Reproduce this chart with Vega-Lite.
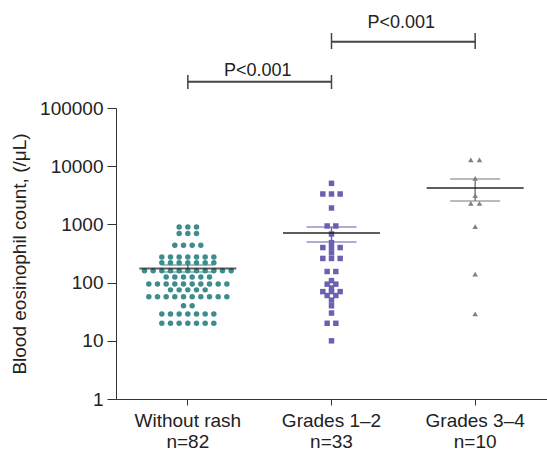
{
  "$schema": "https://vega.github.io/schema/vega-lite/v6.json",
  "width": 431,
  "height": 291,
  "autosize": {"type": "none"},
  "padding": {"left": 116, "top": 108, "right": 0, "bottom": 55},
  "background": "white",
  "config": {"view": {"stroke": null}, "font": "Liberation Sans"},
  "datasets": {
    "pts": [
      {"group": "Without rash", "value": 900}, {"group": "Without rash", "value": 900}, {"group": "Without rash", "value": 900},
      {"group": "Without rash", "value": 700}, {"group": "Without rash", "value": 700}, {"group": "Without rash", "value": 700},
      {"group": "Without rash", "value": 440}, {"group": "Without rash", "value": 440}, {"group": "Without rash", "value": 440}, {"group": "Without rash", "value": 440},
      {"group": "Without rash", "value": 275}, {"group": "Without rash", "value": 275}, {"group": "Without rash", "value": 275}, {"group": "Without rash", "value": 275}, {"group": "Without rash", "value": 275}, {"group": "Without rash", "value": 275}, {"group": "Without rash", "value": 275},
      {"group": "Without rash", "value": 220}, {"group": "Without rash", "value": 220}, {"group": "Without rash", "value": 220}, {"group": "Without rash", "value": 220}, {"group": "Without rash", "value": 220}, {"group": "Without rash", "value": 220}, {"group": "Without rash", "value": 220},
      {"group": "Without rash", "value": 160}, {"group": "Without rash", "value": 160}, {"group": "Without rash", "value": 160}, {"group": "Without rash", "value": 160}, {"group": "Without rash", "value": 160}, {"group": "Without rash", "value": 160}, {"group": "Without rash", "value": 160}, {"group": "Without rash", "value": 160}, {"group": "Without rash", "value": 160}, {"group": "Without rash", "value": 160}, {"group": "Without rash", "value": 160},
      {"group": "Without rash", "value": 125}, {"group": "Without rash", "value": 125}, {"group": "Without rash", "value": 125}, {"group": "Without rash", "value": 125}, {"group": "Without rash", "value": 125}, {"group": "Without rash", "value": 125},
      {"group": "Without rash", "value": 95}, {"group": "Without rash", "value": 95}, {"group": "Without rash", "value": 95}, {"group": "Without rash", "value": 95}, {"group": "Without rash", "value": 95}, {"group": "Without rash", "value": 95}, {"group": "Without rash", "value": 95}, {"group": "Without rash", "value": 95}, {"group": "Without rash", "value": 95}, {"group": "Without rash", "value": 95},
      {"group": "Without rash", "value": 75}, {"group": "Without rash", "value": 75}, {"group": "Without rash", "value": 75}, {"group": "Without rash", "value": 75}, {"group": "Without rash", "value": 75},
      {"group": "Without rash", "value": 57}, {"group": "Without rash", "value": 57}, {"group": "Without rash", "value": 57}, {"group": "Without rash", "value": 57}, {"group": "Without rash", "value": 57}, {"group": "Without rash", "value": 57}, {"group": "Without rash", "value": 57}, {"group": "Without rash", "value": 57}, {"group": "Without rash", "value": 57}, {"group": "Without rash", "value": 57},
      {"group": "Without rash", "value": 40}, {"group": "Without rash", "value": 40},
      {"group": "Without rash", "value": 29}, {"group": "Without rash", "value": 29}, {"group": "Without rash", "value": 29}, {"group": "Without rash", "value": 29}, {"group": "Without rash", "value": 29}, {"group": "Without rash", "value": 29}, {"group": "Without rash", "value": 29},
      {"group": "Without rash", "value": 20}, {"group": "Without rash", "value": 20}, {"group": "Without rash", "value": 20}, {"group": "Without rash", "value": 20}, {"group": "Without rash", "value": 20}, {"group": "Without rash", "value": 20}, {"group": "Without rash", "value": 20},
      {"group": "Grades 1–2", "value": 5080},
      {"group": "Grades 1–2", "value": 3330}, {"group": "Grades 1–2", "value": 3330}, {"group": "Grades 1–2", "value": 3330},
      {"group": "Grades 1–2", "value": 1914},
      {"group": "Grades 1–2", "value": 940}, {"group": "Grades 1–2", "value": 940},
      {"group": "Grades 1–2", "value": 684},
      {"group": "Grades 1–2", "value": 485},
      {"group": "Grades 1–2", "value": 400}, {"group": "Grades 1–2", "value": 400}, {"group": "Grades 1–2", "value": 400},
      {"group": "Grades 1–2", "value": 325},
      {"group": "Grades 1–2", "value": 260}, {"group": "Grades 1–2", "value": 260}, {"group": "Grades 1–2", "value": 260},
      {"group": "Grades 1–2", "value": 155}, {"group": "Grades 1–2", "value": 155},
      {"group": "Grades 1–2", "value": 108},
      {"group": "Grades 1–2", "value": 94}, {"group": "Grades 1–2", "value": 94},
      {"group": "Grades 1–2", "value": 81},
      {"group": "Grades 1–2", "value": 70}, {"group": "Grades 1–2", "value": 70}, {"group": "Grades 1–2", "value": 70},
      {"group": "Grades 1–2", "value": 60}, {"group": "Grades 1–2", "value": 60},
      {"group": "Grades 1–2", "value": 50},
      {"group": "Grades 1–2", "value": 40},
      {"group": "Grades 1–2", "value": 30},
      {"group": "Grades 1–2", "value": 20}, {"group": "Grades 1–2", "value": 20},
      {"group": "Grades 1–2", "value": 10},
      {"group": "Grades 3–4", "value": 12800}, {"group": "Grades 3–4", "value": 12800},
      {"group": "Grades 3–4", "value": 6200},
      {"group": "Grades 3–4", "value": 3112},
      {"group": "Grades 3–4", "value": 2300}, {"group": "Grades 3–4", "value": 2300},
      {"group": "Grades 3–4", "value": 913},
      {"group": "Grades 3–4", "value": 140},
      {"group": "Grades 3–4", "value": 29}
    ],
    "summary": [
      {"group": "Without rash", "mean": 175, "lo": 152, "hi": 200},
      {"group": "Grades 1–2", "mean": 711, "lo": 500, "hi": 902},
      {"group": "Grades 3–4", "mean": 4220, "lo": 2515, "hi": 6030}
    ],
    "brackets": [
      {"a": "Without rash", "b": "Grades 1–2", "y": 283000, "ylo": 212000, "yhi": 369000, "ty": 355000, "label": "P<0.001"},
      {"a": "Grades 1–2", "b": "Grades 3–4", "y": 1377000, "ylo": 1030000, "yhi": 1945000, "ty": 2370000, "label": "P<0.001"}
    ]
  },
  "layer": [
    {
      "data": {"name": "pts"},
      "transform": [
        {"window": [{"op": "count", "as": "one"}], "frame": [0, 0]},
        {"stack": "one", "groupby": ["group", "value"], "offset": "center", "as": ["s0", "s1"]}
      ],
      "mark": {"type": "point", "filled": true, "opacity": 1, "size": 30},
      "encoding": {
        "x": {
          "field": "group", "type": "nominal",
          "scale": {"type": "band", "domain": ["Without rash", "Grades 1–2", "Grades 3–4"], "paddingInner": 0, "paddingOuter": 0},
          "axis": {
            "title": null,
            "domainColor": "#333", "tickColor": "#333", "tickSize": 6, "labelPadding": 6,
            "labelFontSize": 19, "labelColor": "#222", "labelAngle": 0, "labelLineHeight": 21, "labelBaseline": "top",
            "labelExpr": "datum.value == 'Without rash' ? ['Without rash', 'n=82'] : datum.value == 'Grades 1–2' ? ['Grades 1–2', 'n=33'] : ['Grades 3–4', 'n=10']"
          }
        },
        "xOffset": {"field": "s0", "type": "quantitative", "scale": {"domain": [5, 6], "range": [71.83, 80.5], "zero": false, "nice": false}},
        "y": {
          "field": "value", "type": "quantitative",
          "scale": {"type": "log", "domain": [1, 100000], "nice": false},
          "axis": {
            "title": "Blood eosinophil count, (/μL)",
            "values": [1, 10, 100, 1000, 10000, 100000], "format": "d",
            "grid": false, "domainColor": "#333", "tickColor": "#333", "tickSize": 9, "labelPadding": 4,
            "labelFontSize": 19, "labelColor": "#222", "titleFontSize": 19, "titleFontWeight": "normal", "titleColor": "#222", "titlePadding": 10
          }
        },
        "color": {"field": "group", "type": "nominal", "legend": null,
          "scale": {"domain": ["Without rash", "Grades 1–2", "Grades 3–4"], "range": ["#3e8c8c", "#6a62ae", "#7f7f7f"]}},
        "shape": {"field": "group", "type": "nominal", "legend": null,
          "scale": {"domain": ["Without rash", "Grades 1–2", "Grades 3–4"], "range": ["circle", "square", "triangle-up"]}}
      }
    },
    {
      "data": {"name": "summary"},
      "mark": {"type": "rule", "strokeWidth": 1.5},
      "encoding": {
        "x": {"field": "group", "type": "nominal", "bandPosition": 0.5},
        "y": {"field": "lo", "type": "quantitative"},
        "y2": {"field": "hi"},
        "color": {"field": "group", "type": "nominal", "legend": null}
      }
    },
    {
      "data": {"name": "summary"},
      "mark": {"type": "tick", "size": 50, "thickness": 1.5},
      "encoding": {
        "x": {"field": "group", "type": "nominal"},
        "y": {"field": "lo", "type": "quantitative"},
        "color": {"field": "group", "type": "nominal", "legend": null}
      }
    },
    {
      "data": {"name": "summary"},
      "mark": {"type": "tick", "size": 50, "thickness": 1.5},
      "encoding": {
        "x": {"field": "group", "type": "nominal"},
        "y": {"field": "hi", "type": "quantitative"},
        "color": {"field": "group", "type": "nominal", "legend": null}
      }
    },
    {
      "data": {"name": "summary"},
      "mark": {"type": "tick", "size": 97, "thickness": 2, "color": "#1a1a1a"},
      "encoding": {
        "x": {"field": "group", "type": "nominal"},
        "y": {"field": "mean", "type": "quantitative"}
      }
    },
    {
      "data": {"name": "brackets"},
      "mark": {"type": "rule", "strokeWidth": 2, "color": "#444"},
      "encoding": {
        "x": {"field": "a", "type": "nominal", "bandPosition": 0.5},
        "x2": {"field": "b", "bandPosition": 0.5},
        "y": {"field": "y", "type": "quantitative"}
      }
    },
    {
      "data": {"name": "brackets"},
      "mark": {"type": "rule", "strokeWidth": 1.5, "color": "#444"},
      "encoding": {
        "x": {"field": "a", "type": "nominal", "bandPosition": 0.5},
        "y": {"field": "ylo", "type": "quantitative"},
        "y2": {"field": "yhi"}
      }
    },
    {
      "data": {"name": "brackets"},
      "mark": {"type": "rule", "strokeWidth": 1.5, "color": "#444"},
      "encoding": {
        "x": {"field": "b", "type": "nominal", "bandPosition": 0.5},
        "y": {"field": "ylo", "type": "quantitative"},
        "y2": {"field": "yhi"}
      }
    },
    {
      "data": {"name": "brackets"},
      "mark": {"type": "text", "fontSize": 18, "color": "#222", "baseline": "alphabetic", "align": "center", "dx": -2},
      "encoding": {
        "x": {"field": "b", "type": "nominal", "bandPosition": 0},
        "y": {"field": "ty", "type": "quantitative"},
        "text": {"field": "label"}
      }
    }
  ]
}
